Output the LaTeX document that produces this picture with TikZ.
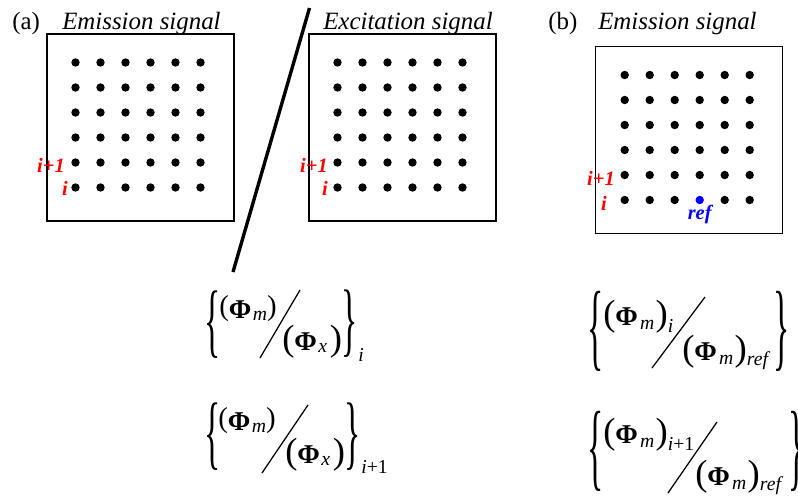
\documentclass[tikz,border=0pt]{standalone}
\usepackage{graphicx}
\usepackage{fontspec}
\setmainfont{Liberation Serif}
\usetikzlibrary{positioning,calc}
\definecolor{lblred}{HTML}{FF0000}
\definecolor{refblue}{HTML}{0000FF}
\newcommand{\pa}[3]{\raisebox{#2}{\fontsize{#1}{#1}\selectfont #3}}
\newcommand{\subsc}[2][-2pt]{\raisebox{#1}{\fontsize{14}{14}\selectfont\itshape #2}}

\begin{document}
\begin{tikzpicture}[x=0.025cm, y=-0.025cm,
  panel/.style={draw, line width=1pt, minimum width=4.675cm, minimum height=4.675cm, inner sep=0},
  dot/.style={circle, fill, inner sep=0, minimum size=0.21cm},
  ttl/.style={anchor=base west, inner sep=0, font=\fontsize{17.7}{20}\selectfont},
  ttlit/.style={ttl, font=\fontsize{17.7}{20}\selectfont\itshape},
  idx/.style={anchor=base east, inner sep=0, text=lblred, font=\fontsize{14.5}{16}\selectfont\bfseries\itshape},
  fml/.style={anchor=base west, inner sep=0, font=\fontsize{19.3}{22}\selectfont},
  bra/.style={inner sep=0, font=\fontsize{24}{24}\selectfont},
  outsub/.style={anchor=base west, inner sep=0, font=\fontsize{14}{14}\selectfont\itshape},
  sl/.style={line width=0.9pt},
  cut/.style={line width=2.4pt}
]
\useasboundingbox (0,0) rectangle (798,495);

% titles
\node[ttl] (capA) at (12,29) {(a)};
\node[ttlit] (ttlA) at (62,29) {Emission signal};
\node[ttlit] (ttlB) at (323,29) {Excitation signal};
\node[ttl] (capB) at (548,29) {(b)};
\node[ttlit] (ttlC) at (598,29) {Emission signal};

% panels
\node[panel] (pA) at (140.5,127.5) {};
\node[panel] (pB) at (402.5,127.5) {};
\node[panel] (pC) at (689.2,140) {};

% dot grids
\foreach \row in {0,...,5}
  \foreach \col in {0,...,5} {
    \ifnum\row\col=53 \def\dotcol{refblue}\else\def\dotcol{black}\fi
    \node[dot] (a\row\col) at ($(pA.center)+({-65+25*\col},{-65+25*\row})$) {};
    \node[dot] (b\row\col) at ($(pB.center)+({-65+25*\col},{-65+25*\row})$) {};
    \node[dot, fill=\dotcol] (c\row\col) at ($(pC.center)+({-64.5+25*\col},{-65+25*\row})$) {};
  }

% row indices
\node[idx] (iA1) at (65,172) {i+1};
\node[idx] (iA0) at (68,195) {i};
\node[idx] (iB1) at (328,172) {i+1};
\node[idx] (iB0) at (328,195) {i};
\node[idx] (iC1) at (615,185) {i+1};
\node[idx] (iC0) at (607,210) {i};
\node[idx, text=refblue, below=0.5pt of c53] (refC) {ref};

% separator
\coordinate (cutlo) at (233,272);
\coordinate (cuthi) at (309.5,8);
\draw[cut] (cutlo) -- (cuthi);

% ratio i, panel (a)
\node[bra, anchor=west] (lb1) at (204,324.5) {\scalebox{1}[2.42]{\{}};
\node[fml] (num1) at (219,318) {\pa{20.5}{2pt}{(}\textbf{Φ}\hspace{1pt}\subsc[-1.5pt]{m}\pa{20.5}{2pt}{)}};
\node[fml] (den1) at (282,350) {\pa{26}{0pt}{(}\textbf{Φ}\hspace{1pt}\subsc[-2pt]{x}\hspace{2pt}\pa{26}{0pt}{)}};
\coordinate (sl1a) at (300,290);
\coordinate (sl1b) at (260,358);
\draw[sl] (sl1a) -- (sl1b);
\node[bra, anchor=east] (rb1) at (358,324) {\scalebox{1}[2.42]{\}}};
\node[outsub] (sub1) at ($(rb1.south east)+(0,3)$) {i};

% ratio i+1, panel (a)
\node[bra, anchor=west] (lb2) at (204,436.5) {\scalebox{1}[2.42]{\{}};
\node[fml] (num2) at (218,430) {\pa{20.5}{2pt}{(}\textbf{Φ}\hspace{1pt}\subsc[-1.5pt]{m}\pa{20.5}{2pt}{)}};
\node[fml] (den2) at (285,463) {\pa{26}{0pt}{(}\textbf{Φ}\hspace{1pt}\subsc[-2pt]{x}\hspace{2pt}\pa{26}{0pt}{)}};
\coordinate (sl2a) at (308,405);
\coordinate (sl2b) at (262,473);
\draw[sl] (sl2a) -- (sl2b);
\node[bra, anchor=east] (rb2) at (361,436.5) {\scalebox{1}[2.42]{\}}};
\node[outsub] (sub2) at ($(rb2.south east)+(0,3)$) {i\upshape +1};

% ratio i, panel (b)
\node[bra, anchor=west] (lb3) at (587,331.5) {\scalebox{1}[2.87]{\{}};
\node[fml] (num3) at (603,325) {\pa{26}{0pt}{(}\textbf{Φ}\hspace{1.5pt}\subsc[-3.5pt]{m}\hspace{1pt}\pa{26}{0pt}{)}\subsc[-5pt]{i}};
\node[fml] (den3) at (682,360) {\pa{26}{0pt}{(}\textbf{Φ}\hspace{1.5pt}\subsc[-3pt]{m}\hspace{1pt}\pa{26}{0pt}{)}\subsc[-4pt]{ref}};
\coordinate (sl3a) at (705,297);
\coordinate (sl3b) at (652,368);
\draw[sl] (sl3a) -- (sl3b);
\node[bra, anchor=east] (rb3) at (790,331.5) {\scalebox{1}[2.87]{\}}};

% ratio i+1, panel (b)
\node[bra, anchor=west] (lb4) at (587,451.5) {\scalebox{1}[2.87]{\{}};
\node[fml] (num4) at (603,443) {\pa{26}{0pt}{(}\textbf{Φ}\hspace{1.5pt}\subsc[-3.5pt]{m}\hspace{1pt}\pa{26}{0pt}{)}\raisebox{-5pt}{\fontsize{14}{14}\selectfont\itshape i\upshape +1}};
\node[fml] (den4) at (695,485) {\pa{26}{0pt}{(}\textbf{Φ}\hspace{1.5pt}\subsc[-3pt]{m}\hspace{1pt}\pa{26}{0pt}{)}\subsc[-4pt]{ref}};
\coordinate (sl4a) at (717,422);
\coordinate (sl4b) at (668,493);
\draw[sl] (sl4a) -- (sl4b);
\node[bra, anchor=east] (rb4) at (805,451.5) {\scalebox{1}[2.87]{\}}};
\end{tikzpicture}
\end{document}
